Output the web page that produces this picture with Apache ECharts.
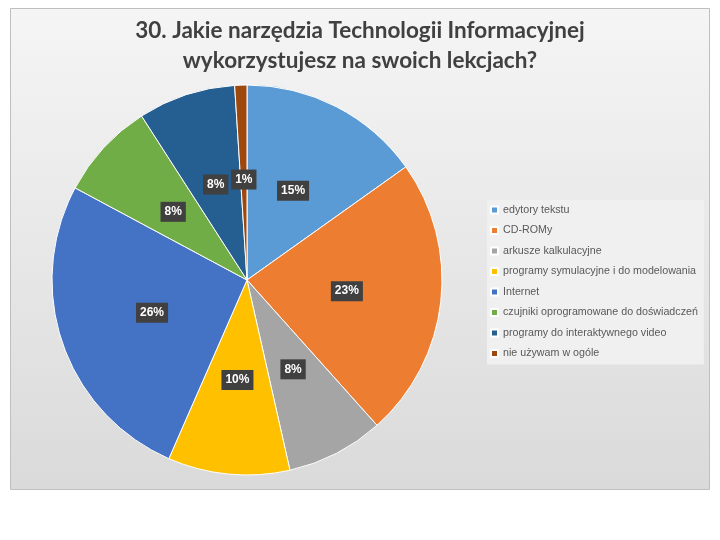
<!DOCTYPE html>
<html>
<head>
<meta charset="utf-8">
<script src="https://cdn.jsdelivr.net/npm/echarts@6/dist/echarts.min.js"></script>
<style>
html,body{margin:0;padding:0;background:#fff;}
#c{width:720px;height:540px;}
</style>
</head>
<body>
<div id="c"></div>
<script>
const titleText = '30. Jakie narzędzia Technologii Informacyjnej\nwykorzystujesz na swoich lekcjach?';
const categories = ['edytory tekstu','CD-ROMy','arkusze kalkulacyjne','programy symulacyjne i do modelowania','Internet','czujniki oprogramowane do doświadczeń','programy do interaktywnego video','nie używam w ogóle'];
const values = [15, 23, 8, 10, 26, 8, 8, 1];
const colors = ['#5B9BD5','#ED7D31','#A5A5A5','#FFC000','#4472C4','#70AD47','#255E91','#9E480E'];

const chart = echarts.init(document.getElementById('c'));
chart.setOption({
  animation: false,
  color: colors,
  graphic: [{
    type: 'rect', z: -10, silent: true,
    shape: {x: 10.5, y: 8.5, width: 699, height: 481},
    style: {
      fill: new echarts.graphic.LinearGradient(0, 0, 0, 1, [
        {offset: 0, color: '#f5f5f5'}, {offset: 1, color: '#dadada'}
      ]),
      stroke: '#bfbfbf', lineWidth: 1
    }
  }],
  title: {
    text: titleText,
    left: 'center', top: 11,
    textStyle: {fontFamily: 'Lato', fontSize: 22.5, fontWeight: 'bold', color: '#404040', lineHeight: 30}
  },
  legend: {
    orient: 'vertical', left: 487, top: 200,
    data: categories,
    itemWidth: 7, itemHeight: 7, itemGap: 6.5, itemTextGap: 3,
    icon: 'rect',
    backgroundColor: '#f0f0f0',
    padding: [3, 6, 4, 3],
    textStyle: {fontFamily: 'Liberation Sans', fontSize: 10.7, color: '#595959', lineHeight: 14}
  },
  series: [{
    type: 'pie',
    center: [247, 280], radius: 195,
    startAngle: 90, clockwise: true,
    itemStyle: {borderColor: '#ffffff', borderWidth: 1},
    label: {
      position: 'inside',
      formatter: p => p.value + '%',
      color: '#ffffff', fontWeight: 'bold', fontSize: 12, fontFamily: 'Liberation Sans',
      backgroundColor: '#404040', padding: [4, 4]
    },
    labelLine: {show: false},
    data: categories.map((n, i) => ({name: n, value: values[i]}))
  }]
});
</script>
</body>
</html>
